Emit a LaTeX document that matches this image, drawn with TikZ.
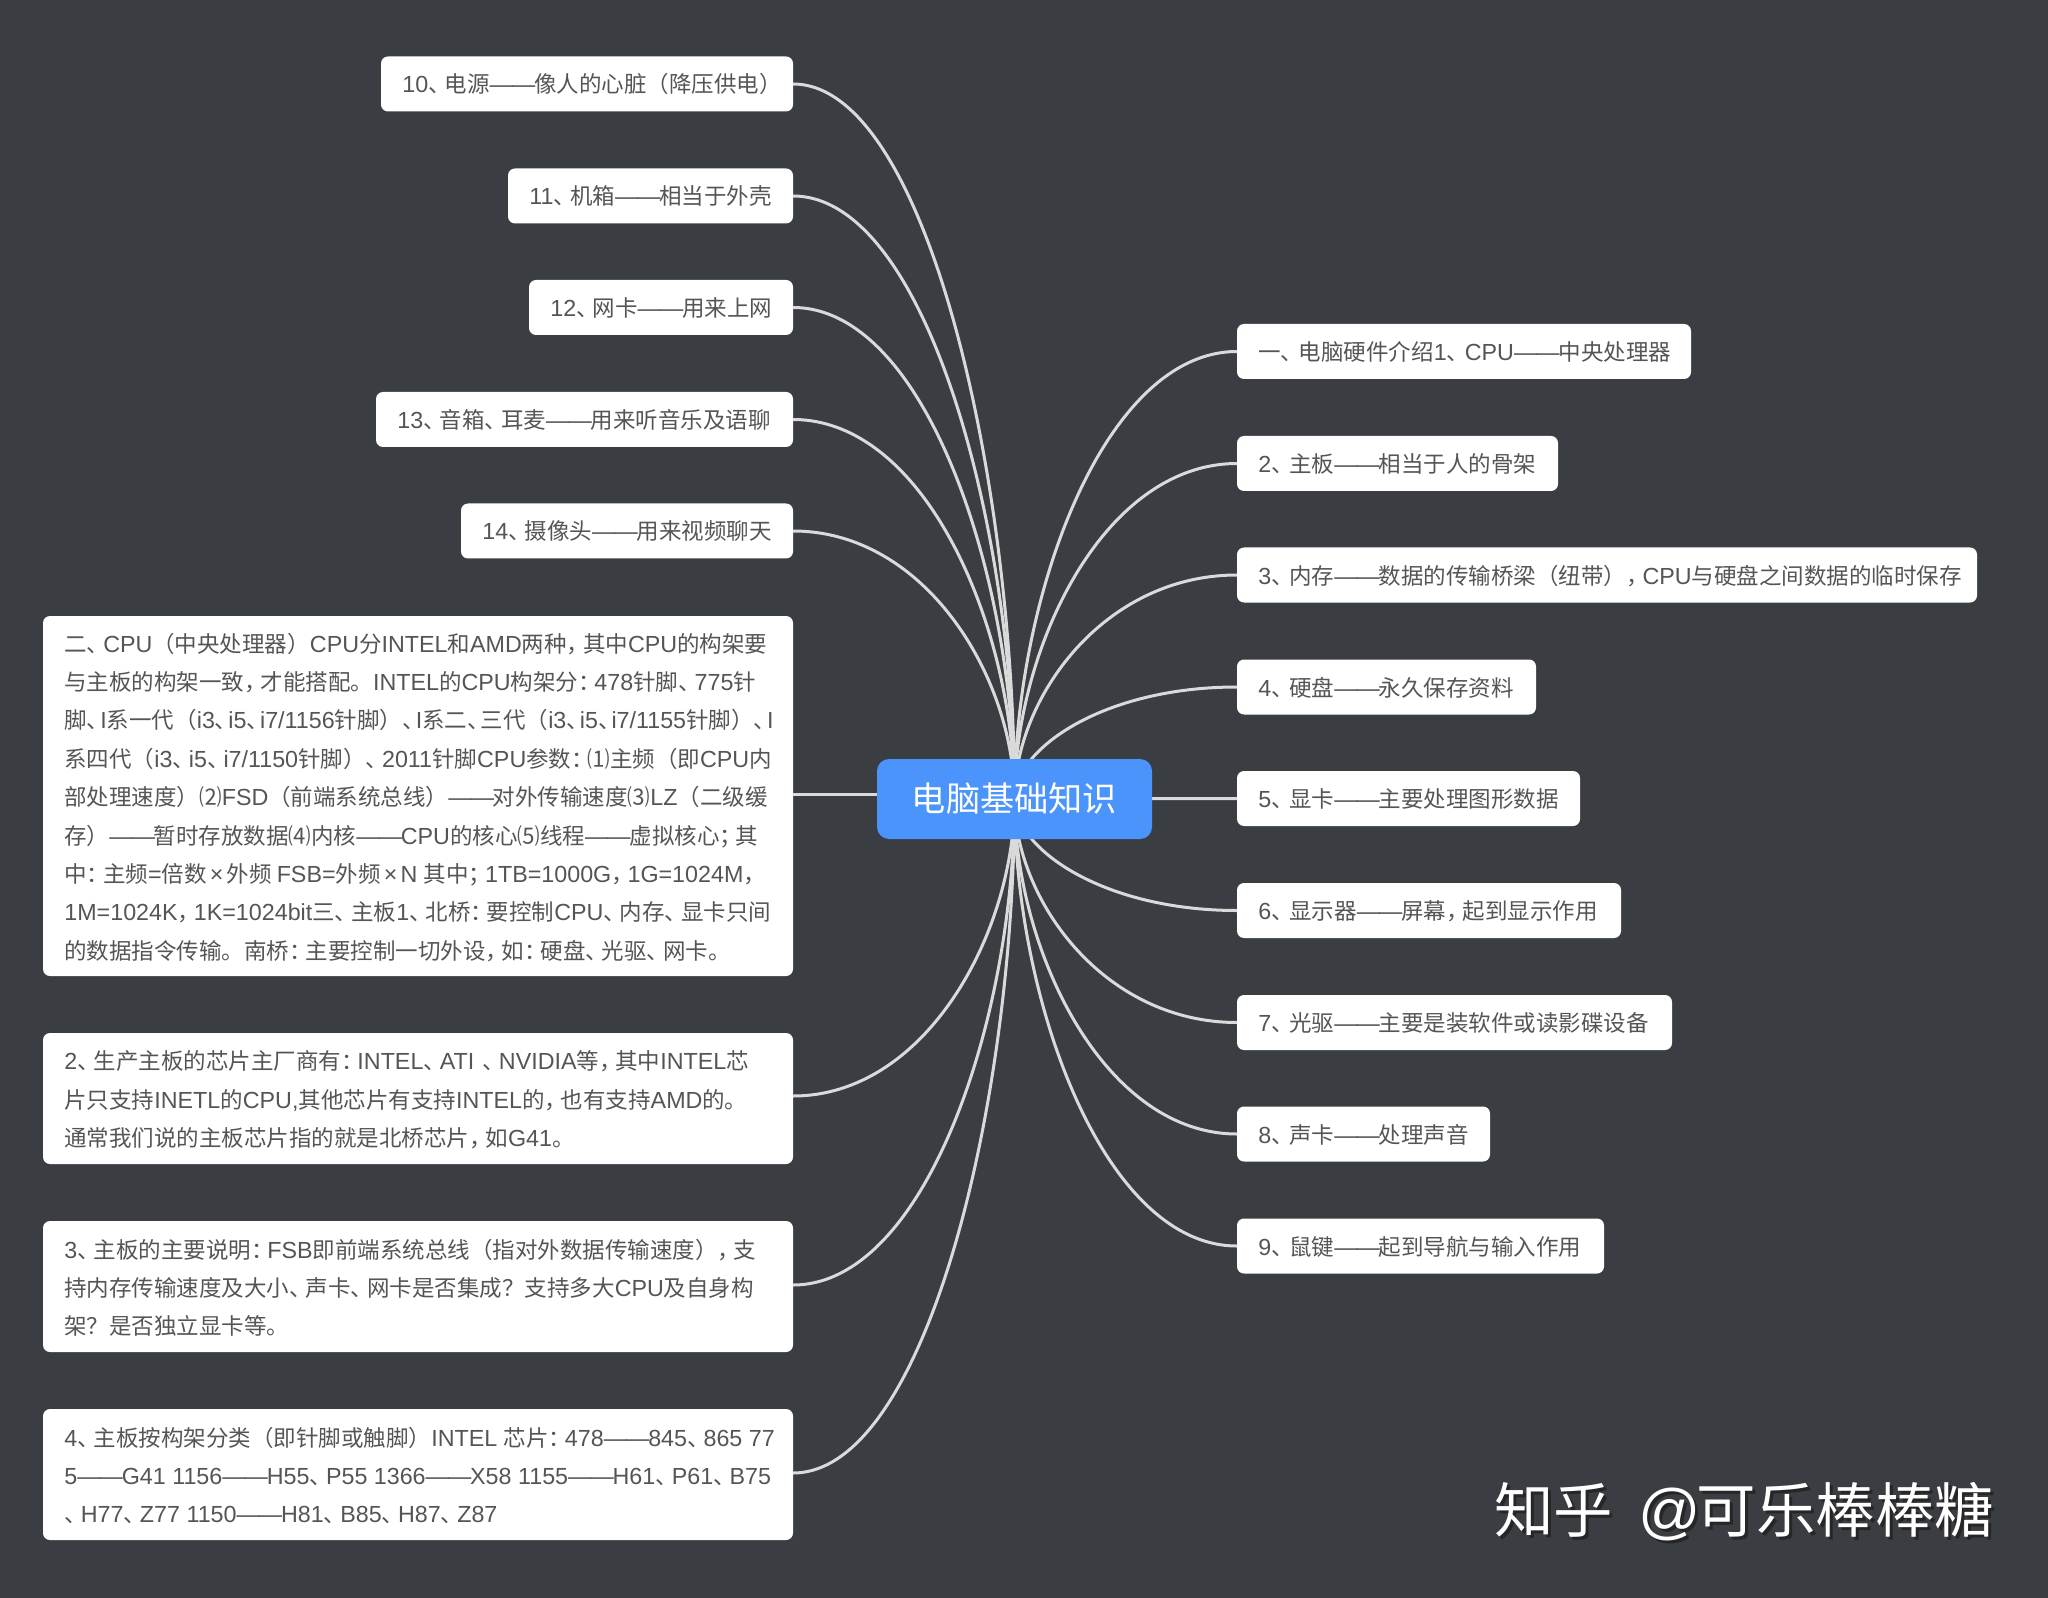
\documentclass[tikz,border=0pt]{standalone}
\usepackage{fontspec}
\setmainfont[Scale=1.035]{Liberation Sans}
\newfontfamily\cjkf{Noto Sans CJK SC}
\newfontfamily\latf[Scale=1.035]{Liberation Sans}
\usetikzlibrary{calc}
% font switching between Latin and CJK runs, narrower CJK punctuation
\XeTeXinterchartokenstate=1
\chardef\cjkc=7
\chardef\punc=8
\chardef\dun=9
\chardef\dsh=10
\newcount\cc
\cc="2E80 \loop \XeTeXcharclass\cc=\cjkc \advance\cc 1 \ifnum\cc<"A000 \repeat
\cc="FF00 \loop \XeTeXcharclass\cc=\cjkc \advance\cc 1 \ifnum\cc<"FFF0 \repeat
\cc="2474 \loop \XeTeXcharclass\cc=\cjkc \advance\cc 1 \ifnum\cc<"2479 \repeat
\XeTeXcharclass"3001=\dun \XeTeXcharclass"FF0C=\punc \XeTeXcharclass"FF1A=\punc \XeTeXcharclass"FF1B=\punc
\XeTeXcharclass"2014=\dsh
\newcommand{\pk}{\kern-.28em}
\newcommand{\dk}{\kern-.27em}
\newcommand{\dkwide}{\def\dk{\kern-.4em}}
\newcommand{\dkreg}{\def\dk{\kern-.27em}}
\XeTeXinterchartoks 0 \cjkc={\cjkf}
\XeTeXinterchartoks 0 \punc={\cjkf}
\XeTeXinterchartoks 0 \dun={\cjkf}
\XeTeXinterchartoks \cjkc 0={\latf}
\XeTeXinterchartoks \punc 0={\pk\latf}
\XeTeXinterchartoks \dun 0={\dk\latf}
\XeTeXinterchartoks \punc \cjkc={\pk}
\XeTeXinterchartoks \dun \cjkc={\dk}
\XeTeXinterchartoks 4095 \cjkc={\cjkf}
\XeTeXinterchartoks 4095 \punc={\cjkf}
\XeTeXinterchartoks 4095 \dun={\cjkf}
\XeTeXinterchartoks 4095 0={\latf}
\XeTeXinterchartoks 4095 \dsh={\latf}
\XeTeXinterchartoks \cjkc \dsh={\latf}
\XeTeXinterchartoks \punc \dsh={\pk\latf}
\XeTeXinterchartoks \dun \dsh={\dk\latf}
\XeTeXinterchartoks \dsh \dsh={\kern-.04em}
\XeTeXinterchartoks \dsh \cjkc={\kern-.05em\cjkf}
\XeTeXinterchartoks \dsh \dun={\kern-.05em\cjkf}
\XeTeXinterchartoks \dsh 0={\kern-.05em}
\newcommand{\tm}{\kern.14em×\kern.14em}
\definecolor{bg}{HTML}{3A3D42}
\definecolor{txt}{HTML}{555555}
\definecolor{lnk}{HTML}{DADADA}
\definecolor{ctr}{HTML}{4A94FB}
\tikzset{x=0.5pt,y=-0.5pt,
 conn/.style={draw=lnk,line width=1.5pt},
 cardfill/.style={fill=white,rounded corners=3.5pt},
 leaftext/.style={anchor=base west,inner sep=0pt,text=txt,font=\fontsize{11.25pt}{13pt}\selectfont},
 bigtext/.style={anchor=north west,inner sep=0pt,text=txt,align=left,font=\fontsize{11.25pt}{19.2pt}\selectfont},
}
\newcommand{\leafbox}[5]{%
 \path[cardfill] (#2,#4-27.5) rectangle (#3,#4+27.5);
 \coordinate (#1) at (#2,#4);
 \coordinate (#1R) at (#3,#4);
 \node[leaftext] (#1T) at (#2+21,#4+9) {#5};}
\newcommand{\bigbox}[6]{%
 \path[cardfill] (43,#2) rectangle (793,#3);
 \coordinate (#1R) at (793,#4);
 \node[bigtext] (#1T) at (64,#5) {#6};}
\newcommand{\hubcurve}[1]{%
 \draw[conn] (hub) .. controls ($(hub)!0.45!(hub |- #1)$) and ($(hub |- #1)!0.4!(#1)$) .. (#1);}
\begin{document}
\begin{tikzpicture}
\path[fill=bg] (0,0) rectangle (2048,1598);
\coordinate (hub) at (1014.5,799);
\begingroup
\def\dk{\kern-.2em}
\leafbox{a}{1237}{1691}{351.5}{一、电脑硬件介绍1、CPU——中央处理器}
\leafbox{b}{1237}{1558}{463.5}{2、主板——相当于人的骨架}
\leafbox{c}{1237}{1977}{575}{3、内存——数据的传输桥梁（纽带），CPU与硬盘之间数据的临时保存}
\leafbox{d}{1237}{1536}{687}{4、硬盘——永久保存资料}
\leafbox{e}{1237}{1580}{798.5}{5、显卡——主要处理图形数据}
\leafbox{f}{1237}{1621}{910.5}{6、显示器——屏幕，起到显示作用}
\leafbox{g}{1237}{1672}{1022.5}{7、光驱——主要是装软件或读影碟设备}
\leafbox{h}{1237}{1490}{1134}{8、声卡——处理声音}
\leafbox{i}{1237}{1604}{1246}{9、鼠键——起到导航与输入作用}
\endgroup
\leafbox{j}{381}{793}{84}{10、电源——像人的心脏（降压供电）}
\leafbox{k}{508}{793}{196}{11、机箱——相当于外壳}
\leafbox{l}{529}{793}{307.5}{12、网卡——用来上网}
\leafbox{m}{376}{793}{419.5}{13、音箱、耳麦——用来听音乐及语聊}
\leafbox{n}{461}{793}{531}{14、摄像头——用来视频聊天}
\bigbox{p}{616}{976}{794}{632.5}{二、CPU（中央处理器）CPU分INTEL和AMD两种，其中CPU的构架要\\与主板的构架一致，才能搭配。INTEL的CPU构架分：478针脚、775针\\\dkwide 脚、I系一代（i3、i5、i7/1156针脚）、I系二、三代（i3、i5、i7/1155针脚）、I\\系四代（i3、i5、i7/1150针脚）、2011针脚CPU参数：⑴主频（即CPU内\\\dkreg 部处理速度）⑵FSD（前端系统总线）——对外传输速度⑶LZ（二级缓\\存）——暂时存放数据⑷内核——CPU的核心⑸线程——虚拟核心；其\\中：主频=倍数\tm 外频 FSB=外频\tm N 其中；1TB=1000G，1G=1024M，\\1M=1024K，1K=1024bit三、主板1、北桥：要控制CPU、内存、显卡只间\\的数据指令传输。南桥：主要控制一切外设，如：硬盘、光驱、网卡。}
\bigbox{q}{1033}{1164}{1096}{1050.5}{2、生产主板的芯片主厂商有：INTEL、ATI\kern.35em 、NVIDIA等，其中INTEL芯\\片只支持INETL的CPU,其他芯片有支持INTEL的，也有支持AMD的。\\通常我们说的主板芯片指的就是北桥芯片，如G41。}
\bigbox{r}{1221}{1352}{1285}{1238.5}{3、主板的主要说明：FSB即前端系统总线（指对外数据传输速度），支\\持内存传输速度及大小、声卡、网卡是否集成？支持多大CPU及自身构\\架？是否独立显卡等。}
\bigbox{s}{1409}{1540}{1473}{1426.5}{4、主板按构架分类（即针脚或触脚）INTEL 芯片：478——845、865 77\\5——G41 1156——H55、P55 1366——X58 1155——H61、P61、B75\\、H77、Z77 1150——H81、B85、H87、Z87}
\foreach \n in {a,b,c,d,f,g,h,i,jR,kR,lR,mR,nR,qR,rR,sR}{\hubcurve{\n}}
\draw[conn] (hub) -- (e);
\draw[conn] (pR) -- (hub |- pR);
\node[fill=ctr,rounded corners=6pt,minimum width=137.5pt,minimum height=40pt,inner sep=0pt,text=white,font=\fontsize{17.1pt}{20pt}\selectfont] (hubN) at (1014.5,799) {电脑基础知识};
\node[anchor=west,inner sep=0pt,text=black!85,font=\fontsize{29.7pt}{34pt}\selectfont] (w2) at (1497,1515) {知乎\hspace{6pt} @\kern-2pt 可乐棒棒糖};
\node[anchor=west,inner sep=0pt,text=white,font=\fontsize{29.7pt}{34pt}\selectfont] (w1) at (1494,1512) {知乎\hspace{6pt} @\kern-2pt 可乐棒棒糖};
\end{tikzpicture}
\end{document}
